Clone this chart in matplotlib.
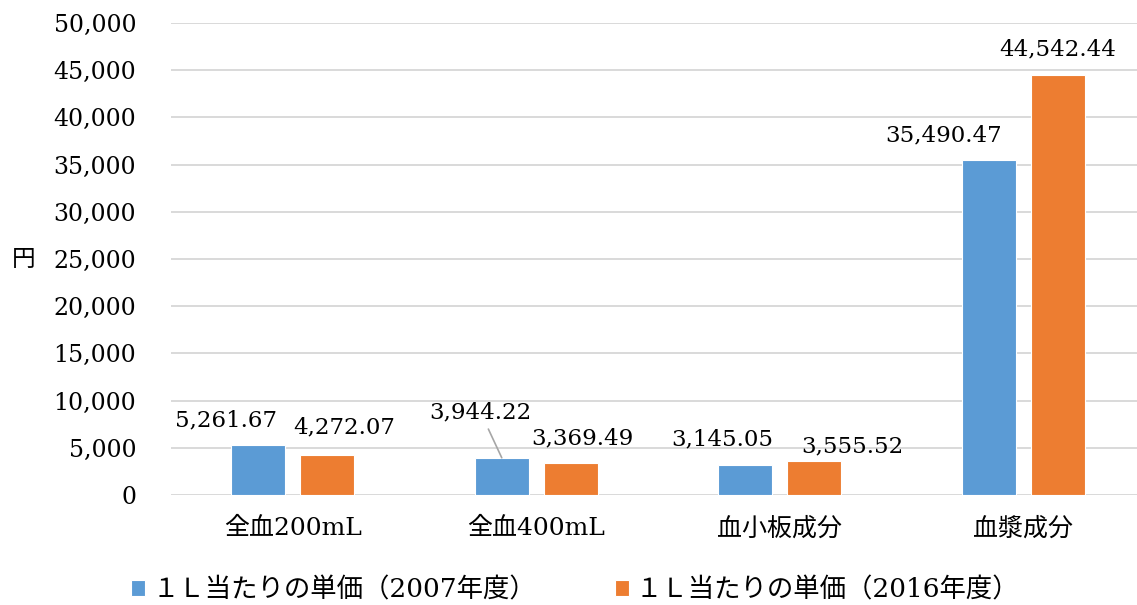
import numpy as np
import matplotlib.pyplot as plt

plt.rcParams['font.family'] = ['DejaVu Serif', 'Noto Sans CJK JP']

# Unit price per litre by blood product
categories = ['全血200mL', '全血400mL', '血小板成分', '血漿成分']
price_2007 = [5261.67, 3944.22, 3145.05, 35490.47]
price_2016 = [4272.07, 3369.49, 3555.52, 44542.44]
series_names = ['１Ｌ当たりの単価（2007年度）', '１Ｌ当たりの単価（2016年度）']

# label offsets from bar top, in pixels (Excel labels were dragged by hand)
offsets_2007 = [(-32, 25), (-21, 45), (-23, 26), (-45, 25)]
offsets_2016 = [(17, 27), (12, 25), (38, 15), (0, 25)]

blue = '#5B9BD5'
orange = '#ED7D31'

fig = plt.figure(figsize=(11.37, 6.05), dpi=100)
ax = fig.add_axes([0.1504, 0.1818, 0.8496, 0.7802])

x = np.arange(len(categories))
w = 0.222
off = 0.1417
b1 = ax.bar(x - off, price_2007, w, color=blue, edgecolor='white', linewidth=0.8,
            label=series_names[0], zorder=3)
b2 = ax.bar(x + off, price_2016, w, color=orange, edgecolor='white', linewidth=0.8,
            label=series_names[1], zorder=3)

ax.set_xlim(-0.5, 3.467)
ax.set_ylim(0, 50000)
ax.set_yticks(np.arange(0, 50001, 5000))
ax.set_yticklabels([f'{v:,}' for v in range(0, 50001, 5000)])
ax.set_xticks(x)
ax.set_xticklabels(categories)
ax.tick_params(axis='y', length=0, pad=25, labelsize=17)
ax.tick_params(axis='x', length=0, pad=16, labelsize=18)
for s in ax.spines.values():
    s.set_visible(False)
ax.yaxis.grid(True, color='#D9D9D9', linewidth=1.4, zorder=0)
ax.set_axisbelow(True)

for i, (xi, v) in enumerate(zip(x, price_2007)):
    dx, dy = offsets_2007[i]
    arrow = None
    if i == 1:
        arrow = dict(arrowstyle='-', color='#A6A6A6', lw=1.2, shrinkA=2, shrinkB=0)
    ax.annotate(f'{v:,.2f}', xy=(xi - off, v), xytext=(dx, dy), textcoords='offset pixels',
                ha='center', va='center', fontsize=16.5, arrowprops=arrow, zorder=4)
for i, (xi, v) in enumerate(zip(x, price_2016)):
    dx, dy = offsets_2016[i]
    ax.annotate(f'{v:,.2f}', xy=(xi + off, v), xytext=(dx, dy), textcoords='offset pixels',
                ha='center', va='center', fontsize=16.5, zorder=4)

fig.text(24 / 1137, 1 - 260 / 605, '円', ha='center', va='center', fontsize=17)

fig.legend(handles=[b1, b2], loc='center', bbox_to_anchor=(0.506, 1 - 590 / 605),
           ncol=2, frameon=False, fontsize=19, handlelength=0.53, handleheight=0.53,
           handletextpad=0.25, columnspacing=3.0)

fig.savefig('out.png', dpi=100)
